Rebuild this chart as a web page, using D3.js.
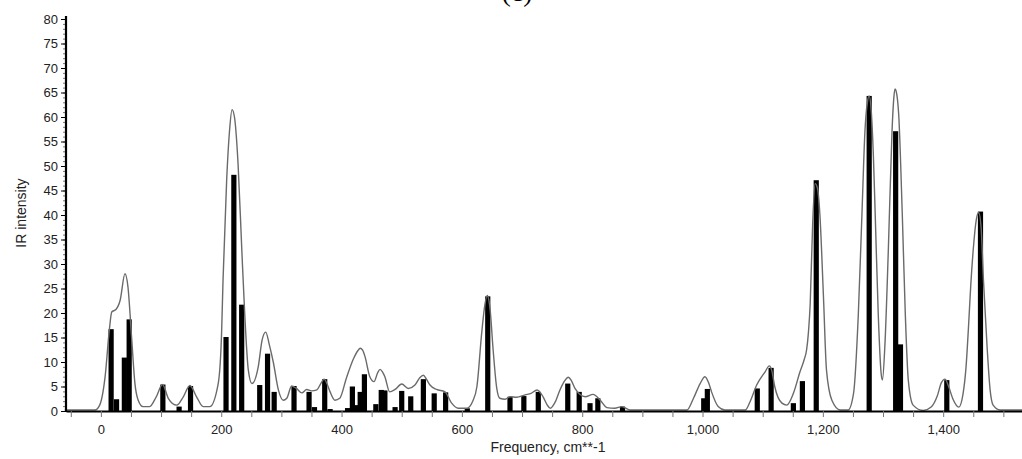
<!DOCTYPE html>
<html>
<head>
<meta charset="utf-8">
<script src="https://cdn.jsdelivr.net/npm/d3@7"></script>
<style>
  body { margin: 0; background: #fff; }
  svg { display: block; }
  text { font-family: "Liberation Sans", Arial, sans-serif; }
</style>
</head>
<body>
<div id="chart"></div>
<script>
// stick spectrum: [frequency, intensity]
const freqs = [17, 26, 39, 47, 103, 130, 149, 208, 221, 234, 264, 277, 288, 321, 346, 355, 372, 381,
  410, 418, 426, 431, 438, 457, 466, 472, 489, 500, 515, 536, 554, 573, 609, 643, 680, 703, 727,
  776, 795, 813, 826, 867, 1002, 1008, 1091, 1114, 1151, 1166, 1189, 1277, 1321, 1329, 1406, 1462]
const intens = [16.7, 2.4, 10.9, 18.7, 5.4, 0.9, 5.1, 15.1, 48.2, 21.7, 5.3, 11.7, 3.9, 5.1, 3.9, 0.8, 6.5, 0.4,
  0.6, 5.0, 1.2, 3.9, 7.5, 1.4, 4.3, 4.2, 0.8, 4.1, 3.0, 6.5, 3.6, 3.8, 0.55, 23.4, 2.9, 3.05, 3.9,
  5.6, 3.9, 1.6, 2.6, 0.9, 2.6, 4.5, 4.6, 8.8, 1.6, 6.1, 47.1, 64.3, 57.1, 13.6, 6.3, 40.7]

// broadened envelope: [frequency, intensity]
const envelope = [[-60,0.2],[-10,0.2],[-2,1.2],[7,7],[14,16.5],[18,20.2],[25,20.7],[32,22.6],[40,28.0],[45,25.3],
  [51,15.1],[56.5,5.7],[62,2.2],[70,0.9],[81,0.9],[92,2.9],[102.5,5.4],[112,2.6],[126,1.2],[137,2.9],[148,5.2],
  [159,2.9],[170,0.9],[181,0.9],[195,5.6],[200.6,15.9],[203,26.7],[209,47],[214,57.5],[218,61.5],[222,60],
  [228,50.4],[234,33.5],[239,20],[245,8.4],[251,5.6],[261.5,9],[268,14.5],[274,16.1],[280,13.5],[286.5,10],
  [295,4.3],[303,2.2],[309,2.6],[317,5.1],[325,4.6],[334,3.7],[342,4.4],[350,4.1],[359,4.3],[365,5.5],[371,6.5],
  [376,5.5],[381,3.9],[389,2.2],[397,2.6],[408,6.7],[420,10.7],[427,12.3],[431,12.8],[435,12.4],[439,11.1],
  [447,7],[454,6],[460,7.8],[464,8.5],[468,8.0],[472,7],[480,3.9],[489,4.4],[500,5.5],[511,4.6],[522,5.3],
  [530,6.8],[536,7.3],[541,6.5],[547,5.3],[558,4.4],[572,3.9],[583,1.6],[594,0.55],[608,0.55],[618,2],[625,5],
  [633,16],[638,21.5],[642,23.6],[645,22.5],[647,20.6],[652,12.4],[658,4.6],[663,2.6],[672,2.4],[680,2.9],
  [691,2.8],[705,3.3],[715,3.6],[725,4.3],[735,2.9],[742,1.2],[747,0.55],[755,1.8],[763,4.3],[770,6],[777,6.9],
  [782,6.2],[788,4.6],[805,2.9],[818,3.4],[830,2.2],[841,0.7],[854,0.55],[866,0.9],[880,0.2],[974,0.2],
  [985,2.6],[996,5.6],[1004,7],[1010,5.8],[1015,3.9],[1026,0.9],[1037,0.2],[1071,0.2],[1079,1.9],[1090,5.3],
  [1104,8],[1111,9.2],[1115,8.3],[1120,5],[1132,1.6],[1140,1.2],[1151,3.6],[1162,8],[1169,10.5],[1173,12.5],
  [1176,16],[1179,22],[1183,38],[1187,46.4],[1191,45.5],[1195,40.2],[1201,23.3],[1206,8.4],[1215,2.2],
  [1229,0.2],[1242,0.2],[1251,3.6],[1259,19.9],[1265,40.3],[1270,57.2],[1274,63],[1277,64.3],[1280,62],
  [1284,52],[1287,40.2],[1292,20],[1297,7.5],[1299,6.3],[1303,13.1],[1309,33.5],[1315,57.2],[1318,64],
  [1320,65.7],[1323,64.5],[1326,60.6],[1332,40.2],[1337,19.9],[1342,6.3],[1350,1.2],[1367,0.1],[1380,0.8],
  [1390,3],[1397,5.8],[1403,6.5],[1409,5],[1416,2.5],[1426,0.8],[1433,3.5],[1438,9],[1442,17],[1446,26],
  [1450,33],[1455,39],[1459,40.5],[1463,37.5],[1467,26.5],[1473,13],[1478,4.3],[1483,1.2],[1495,0.2],[1540,0.2]]

const yMajor = d3.range(0, 81, 5)
const yMinor = d3.range(0, 81, 1)
const xTicks = d3.range(-50, 1501, 50)

const width = 1022, height = 459

const svg = d3.select('#chart').append('svg')
    .attr('width', width)
    .attr('height', height)

const x = d3.scaleLinear().domain([-58, 1531]).range([66, 1022])
const y = d3.scaleLinear().domain([0, 80]).range([411, 19])

// sticks
svg.append('g')
  .selectAll('rect')
  .data(freqs.map((f, i) => [f, intens[i]]))
  .join('rect')
    .attr('x', d => x(d[0]) - 2.6)
    .attr('width', 5.2)
    .attr('y', d => y(d[1]))
    .attr('height', d => y(0) - y(d[1]))
    .attr('fill', '#000')

// envelope
svg.append('path')
  .datum(envelope)
  .attr('fill', 'none')
  .attr('stroke', '#6a6a6a')
  .attr('stroke-width', 1.4)
  .attr('d', d3.line().x(d => x(d[0])).y(d => y(d[1])).curve(d3.curveMonotoneX))

// y axis
svg.append('g')
  .attr('transform', 'translate(66,0)')
  .call(d3.axisLeft(y).tickValues(yMinor).tickSize(3).tickFormat(''))
  .call(g => g.select('.domain').remove())
  .call(g => g.selectAll('line').attr('stroke', '#777'))

const yAx = svg.append('g')
  .attr('transform', 'translate(66,0)')
  .call(d3.axisLeft(y).tickValues(yMajor).tickSize(5).tickSizeOuter(0).tickPadding(3).tickFormat(d3.format('d')))
yAx.select('.domain').attr('stroke-width', 2.2).attr('d', `M0,${y(80) - 3}V${y(0) + 1}`)
yAx.selectAll('text').attr('font-size', 13).attr('fill', '#222')

// x axis
const xAx = svg.append('g')
  .attr('transform', `translate(0,${y(0)})`)
  .call(d3.axisBottom(x).tickValues(xTicks).tickSize(6).tickSizeOuter(0).tickPadding(8)
    .tickFormat(d => d % 200 === 0 ? d3.format(',')(d) : ''))
xAx.select('.domain').attr('stroke-width', 2.2)
xAx.selectAll('line').attr('stroke', '#777')
xAx.selectAll('text').attr('font-size', 13).attr('fill', '#222')

// labels
svg.append('text')
  .attr('transform', 'translate(26,213) rotate(-90)')
  .attr('text-anchor', 'middle')
  .attr('font-size', 14)
  .attr('fill', '#222')
  .text('IR intensity')

svg.append('text')
  .attr('x', 548)
  .attr('y', 452)
  .attr('text-anchor', 'middle')
  .attr('font-size', 14)
  .attr('fill', '#222')
  .text('Frequency, cm**-1')

svg.append('text')
  .attr('x', 517)
  .attr('y', 1)
  .attr('text-anchor', 'middle')
  .style('font-family', '"Liberation Serif", serif')
  .attr('font-size', 28)
  .attr('fill', '#000')
  .text('(c)')
</script>
</body>
</html>
